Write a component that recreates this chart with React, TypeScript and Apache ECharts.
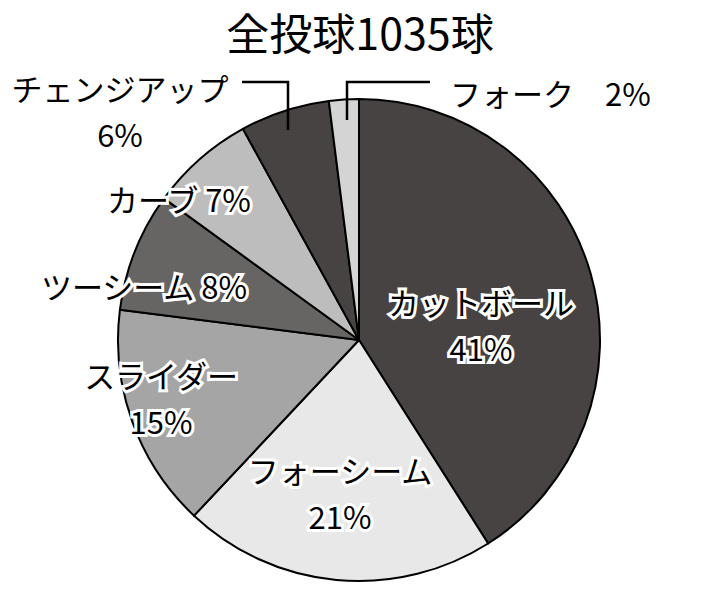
import React, { useEffect, useRef } from "react";
import * as echarts from "echarts";

const TITLE = "全投球1035球";
const CATEGORIES = ["カットボール", "フォーシーム", "スライダー", "ツーシーム", "カーブ", "チェンジアップ", "フォーク"];
const PERCENTS = [41, 21, 15, 8, 7, 6, 2];
const COLORS = ["#474343", "#e8e8e8", "#a5a5a5", "#676464", "#bdbdbd", "#474343", "#d4d4d4"];
const SEPARATORS = ["\n", "\n", "\n", " ", " ", "\n", "　"];
const LABEL_POS: { x: number; y: number; align: string; line?: number[][] }[] = [
  { x: 481, y: 324, align: "center" },
  { x: 340, y: 492, align: "center" },
  { x: 161, y: 397, align: "center" },
  { x: 144, y: 285, align: "center" },
  { x: 179, y: 198, align: "center" },
  { x: 120, y: 110, align: "center", line: [[288, 130], [288, 82], [242, 82]] },
  { x: 450, y: 92, align: "left", line: [[347, 120], [347, 82], [430, 82]] },
];

export default function App() {
  const ref = useRef<HTMLDivElement>(null);
  useEffect(() => {
    if (!ref.current) return;
    const chart = echarts.init(ref.current, undefined, { renderer: "svg" });
    const font = "'Noto Sans CJK JP', 'Noto Sans', sans-serif";
    const leaders = LABEL_POS.filter((p) => p.line).map((p) => ({
      type: "polyline",
      silent: true,
      z: 100,
      shape: { points: p.line },
      style: { stroke: "#000", lineWidth: 2.5, fill: null },
    }));
    chart.setOption({
      animation: false,
      backgroundColor: "#ffffff",
      title: {
        text: TITLE,
        left: "center",
        top: 4,
        textStyle: { fontSize: 43, fontWeight: "normal", color: "#000", fontFamily: font },
      },
      graphic: leaders,
      series: [
        {
          type: "pie",
          center: [359, 340],
          radius: 241,
          startAngle: 90,
          clockwise: true,
          avoidLabelOverlap: false,
          itemStyle: { borderColor: "#000", borderWidth: 2 },
          label: {
            show: true,
            position: "outside",
            color: "#000",
            fontSize: 31,
            lineHeight: 46,
            fontFamily: font,
            textBorderColor: "#fff",
            textBorderWidth: 6,
            formatter: (p: any) => `${p.name}${SEPARATORS[p.dataIndex]}${p.value}%`,
          },
          labelLine: { show: false },
          labelLayout: (params: any) => {
            const lp = LABEL_POS[params.dataIndex];
            return { x: lp.x, y: lp.y, align: lp.align, verticalAlign: "middle" };
          },
          emphasis: { disabled: true },
          data: CATEGORIES.map((name, i) => ({
            name,
            value: PERCENTS[i],
            itemStyle: { color: COLORS[i] },
          })),
        },
      ],
    });
    return () => chart.dispose();
  }, []);
  return <div ref={ref} style={{ position: "fixed", left: 0, top: 0, width: 720, height: 594 }} />;
}
